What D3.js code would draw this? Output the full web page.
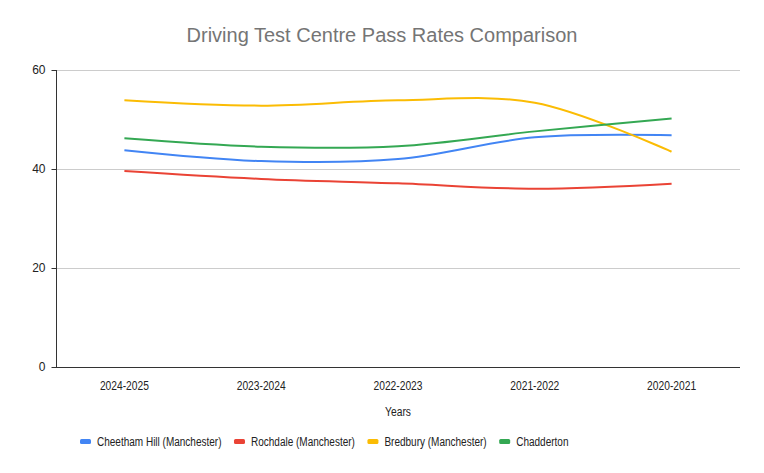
<!DOCTYPE html>
<html><head><meta charset="utf-8">
<script src="https://cdn.jsdelivr.net/npm/d3@7"></script>
<style>body{margin:0;background:#fff;}svg{display:block;font-family:"Liberation Sans",Arial,sans-serif;}</style>
</head><body>
<svg id="chart" width="764" height="473"></svg>
<script>
const categories = ["2024-2025","2023-2024","2022-2023","2021-2022","2020-2021"];
const seriesNames = ["Cheetham Hill (Manchester)","Rochdale (Manchester)","Bredbury (Manchester)","Chadderton"];
const cheethamHill = [43.8, 41.6, 42.0, 46.4, 46.8];
const rochdale = [39.6, 38.0, 37.1, 36.0, 37.0];
const bredbury = [53.9, 52.8, 53.9, 53.4, 43.5];
const chadderton = [46.2, 44.5, 44.6, 47.6, 50.2];
const yTicks = [0, 20, 40, 60];
const colors = ["#4285F4","#EA4335","#FBBC04","#34A853"];
const series = [cheethamHill, rochdale, bredbury, chadderton];

(function(){
const FONT = '"Liberation Sans",Arial,sans-serif';
const SQUEEZE = 0.82;
function narrow(sel){
  sel.each(function(){
    const w = this.getComputedTextLength();
    d3.select(this).attr("textLength", w*SQUEEZE).attr("lengthAdjust","spacingAndGlyphs");
  });
}
const svg = d3.select("#chart");
const mLeft = 56, mRight = 740, mTop = 70, mBottom = 367;
const x = d3.scaleBand().domain(categories).range([mLeft, mRight]);
const y = d3.scaleLinear().domain([0, 60]).range([mBottom, mTop]);

svg.append("text").attr("x", 382).attr("y", 42).attr("text-anchor","middle")
  .attr("font-family",FONT)
  .attr("font-size", 20).attr("fill","#757575").text("Driving Test Centre Pass Rates Comparison");

// grid
svg.append("g").selectAll("line").data(yTicks.filter(d=>d>0)).join("line")
  .attr("x1", mLeft).attr("x2", mRight).attr("y1", d=>y(d)+0.5).attr("y2", d=>y(d)+0.5)
  .attr("stroke","#cccccc").attr("stroke-width",1);

// y axis
const ya = svg.append("g").attr("transform",`translate(${mLeft+0.5},0)`)
  .call(d3.axisLeft(y).tickValues(yTicks).tickSize(5).tickPadding(6).tickFormat(d3.format("d")));
ya.select(".domain").attr("stroke","#333").attr("d",`M0,${mTop}V${mBottom}`);
ya.selectAll(".tick line").attr("stroke","#333");
ya.selectAll(".tick text").attr("font-size",12).attr("fill","#222").attr("font-family",FONT);

// x axis
const xa = svg.append("g").attr("transform",`translate(0,${mBottom+0.5})`)
  .call(d3.axisBottom(x).tickSize(0).tickPadding(14));
xa.select(".domain").attr("stroke","#333").attr("d",`M${mLeft},0H${mRight}`);
xa.selectAll(".tick text").attr("font-size",12.5).attr("fill","#222").attr("font-family",FONT).call(narrow);

svg.append("text").attr("x", 398).attr("y", 416).attr("text-anchor","middle")
  .attr("font-family",FONT).attr("font-size",12.5).attr("fill","#222").text("Years").call(narrow);

// lines
const line = d3.line().x((d,i)=>x(categories[i])+x.bandwidth()/2).y(d=>y(d)).curve(d3.curveCatmullRom.alpha(0.5));
series.forEach((s,i)=>{
  svg.append("path").datum(s).attr("d", line).attr("fill","none")
    .attr("stroke", colors[i]).attr("stroke-width", 2);
});

// legend
const lg = svg.append("g");
let lx = 80;
seriesNames.forEach((n,i)=>{
  lg.append("rect").attr("x", lx).attr("y", 439).attr("width", 11).attr("height", 5).attr("rx",1.5).attr("fill", colors[i]);
  const t = lg.append("text").attr("x", lx+17).attr("y", 446).attr("font-family",FONT).attr("font-size",12.5).attr("fill","#222").text(n);
  const w = t.node().getComputedTextLength()*0.8;
  t.attr("textLength", w).attr("lengthAdjust","spacingAndGlyphs");
  lx = lx + 17 + w + 12.5;
});
})();
</script>
</body></html>
